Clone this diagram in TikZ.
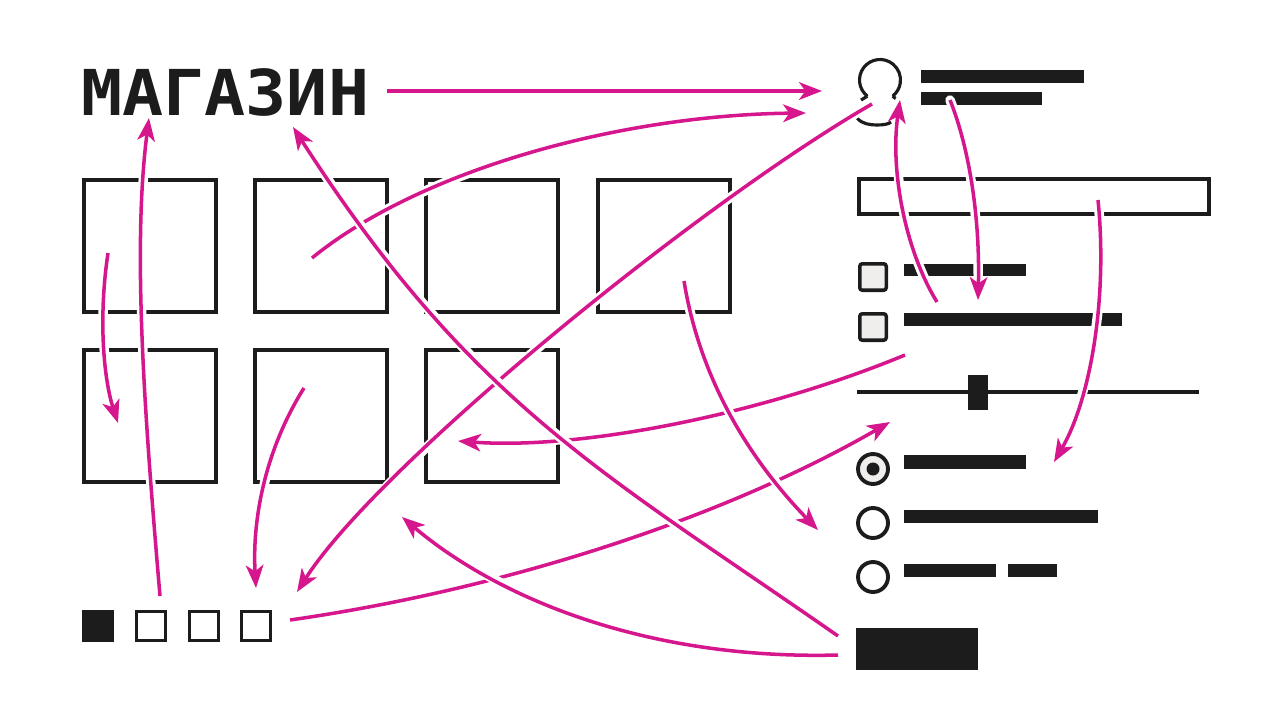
\documentclass[tikz,border=0pt]{standalone}
\usepackage{fontspec}
\newfontfamily\titlefont{DejaVu Sans Mono}
\usetikzlibrary{arrows.meta}
\definecolor{ink}{HTML}{1C1C1C}
\definecolor{linkpink}{HTML}{D6168C}
\definecolor{paper}{HTML}{EFEEEC}

\begin{document}
\begin{tikzpicture}[x=0.02cm, y=-0.02cm,
        tile/.style={draw=ink, line width=2.5pt, minimum size=2.64cm, inner sep=0},
        page/.style={draw=ink, line width=2pt, minimum size=0.58cm, inner sep=0},
        tickbox/.style={draw=ink, fill=paper, line width=2pt, rounded corners=1.5pt, minimum size=0.53cm, inner sep=0},
        radio/.style={circle, draw=ink, line width=2.2pt, minimum size=0.6cm, inner sep=0},
        link/.style={draw=linkpink, line width=2pt, -{Stealth[length=13pt,width=10pt,inset=3.5pt]},
            preaction={draw=white, line width=5.4pt, line cap=round, -}}]
        \useasboundingbox (0,0) rectangle (1280,720);

        % shop title
        \node[anchor=base west, inner sep=0, text=ink] (title) at (81,115) {\fontsize{36}{36}\titlefont\bfseries\scalebox{1.08}[1]{МАГАЗИН}};

        % product tiles
        \node[tile] (t1) at (150,246) {};
        \node[tile] (t2) at (321,246) {};
        \node[tile] (t3) at (492,246) {};
        \node[tile] (t4) at (664,246) {};
        \node[tile] (t5) at (150,416) {};
        \node[tile] (t6) at (321,416) {};
        \node[tile] (t7) at (492,416) {};

        % pagination
        \node[page, fill=ink] (p1) at (98,626) {};
        \node[page] (p2) at (151,626) {};
        \node[page] (p3) at (204,626) {};
        \node[page] (p4) at (256,626) {};

        % user
        \draw[ink, line width=1.8pt] (880,80) ++(128:20.5) arc[start angle=128, end angle=412, radius=20.5];
        \draw[ink, line width=1.8pt] (867.4,96.2) -- (861,100);
        \draw[ink, line width=1.8pt] (892.6,96.2) -- (897,99.5);
        \draw[ink, line width=1.8pt] (857,118) .. controls (862,124) and (870,125) .. (877,125)
            .. controls (884,125) and (889,124) .. (891,122);
        \fill[ink] (921,70) rectangle (1084,83);
        \fill[ink] (921,92) rectangle (1042,105);

        % filters
        \node[draw=ink, line width=2.3pt, minimum width=7cm, minimum height=0.7cm, inner sep=0] (search) at (1034,196.5) {};
        \node[tickbox] (c1) at (873,277) {};
        \fill[ink] (904,264) rectangle (1026,276);
        \node[tickbox] (c2) at (873,327) {};
        \fill[ink] (904,313) rectangle (1122,326);
        \draw[ink, line width=2.8pt] (857,392) -- (1199,392);
        \node[fill=ink, minimum width=0.4cm, minimum height=0.7cm, inner sep=0] (knob) at (978,392.5) {};
        \node[radio, fill=paper] (r1) at (873,469) {};
        \fill[ink] (r1.center) circle (6.5);
        \fill[ink] (904,455) rectangle (1026,469);
        \node[radio] (r2) at (873,523) {};
        \fill[ink] (904,510) rectangle (1098,523);
        \node[radio] (r3) at (873,577) {};
        \fill[ink] (904,564) rectangle (996,577);
        \fill[ink] (1008,564) rectangle (1057,577);
        \node[fill=ink, minimum width=2.44cm, minimum height=0.84cm, inner sep=0] (buy) at (917,649) {};

        % ends of the arrows
        \coordinate (title-out) at (387,91);
        \coordinate (user-in) at (822,91);
        \coordinate (t2-out) at (312,258);
        \coordinate (user-in2) at (806,113);
        \coordinate (user-out) at (872,104);
        \coordinate (p4-in) at (297,592);
        \coordinate (p1-out) at (160,596);
        \coordinate (title-in) at (149,118);
        \coordinate (buy-out) at (838,636);
        \coordinate (title-in2) at (293,127);
        \coordinate (buy-out2) at (838,655);
        \coordinate (t7-below) at (402,517);
        \coordinate (t1-out) at (108,253);
        \coordinate (t5-in) at (118,423);
        \coordinate (t6-out) at (304,388);
        \coordinate (p3-in) at (256,588);
        \coordinate (p4-out) at (290,620);
        \coordinate (r1-in) at (890,422);
        \coordinate (t4-out) at (684,281);
        \coordinate (r2-in) at (818,530);
        \coordinate (c2-out) at (905,355);
        \coordinate (t7-in) at (458,441);
        \coordinate (c2-out2) at (937,302);
        \coordinate (user-in3) at (900,100);
        \coordinate (user-out2) at (950,100);
        \coordinate (c2-in) at (978,300);
        \coordinate (search-out) at (1098,200);
        \coordinate (r1-in2) at (1054,462);

        % arrows
        \draw[link] (title-out) -- (user-in);
        \draw[link] (t2-out) .. controls (420,170) and (620,115) .. (user-in2);
        \draw[link] (t1-out) .. controls (98,320) and (104,380) .. (t5-in);
        \draw[link] (t6-out) .. controls (265,450) and (252,520) .. (p3-in);
        \draw[link] (user-out2) .. controls (970,150) and (980,220) .. (c2-in);
        \draw[link] (search-out) .. controls (1108,300) and (1090,400) .. (r1-in2);
        \draw[link] (c2-out2) .. controls (905,250) and (890,170) .. (user-in3);
        \draw[link] (c2-out) .. controls (760,415) and (580,450) .. (t7-in);
        \draw[link] (p4-out) .. controls (500,590) and (720,520) .. (r1-in);
        \draw[link] (t4-out) .. controls (700,380) and (750,460) .. (r2-in);
        \draw[link] (buy-out2) .. controls (650,660) and (500,600) .. (t7-below);
        \draw[link] (user-out) .. controls (700,203) and (377,466) .. (p4-in);
        \draw[link] (p1-out) .. controls (145,420) and (132,250) .. (title-in);
        \draw[link] (buy-out) .. controls (604,473) and (472,405) .. (title-in2);
    \end{tikzpicture}
\end{document}
